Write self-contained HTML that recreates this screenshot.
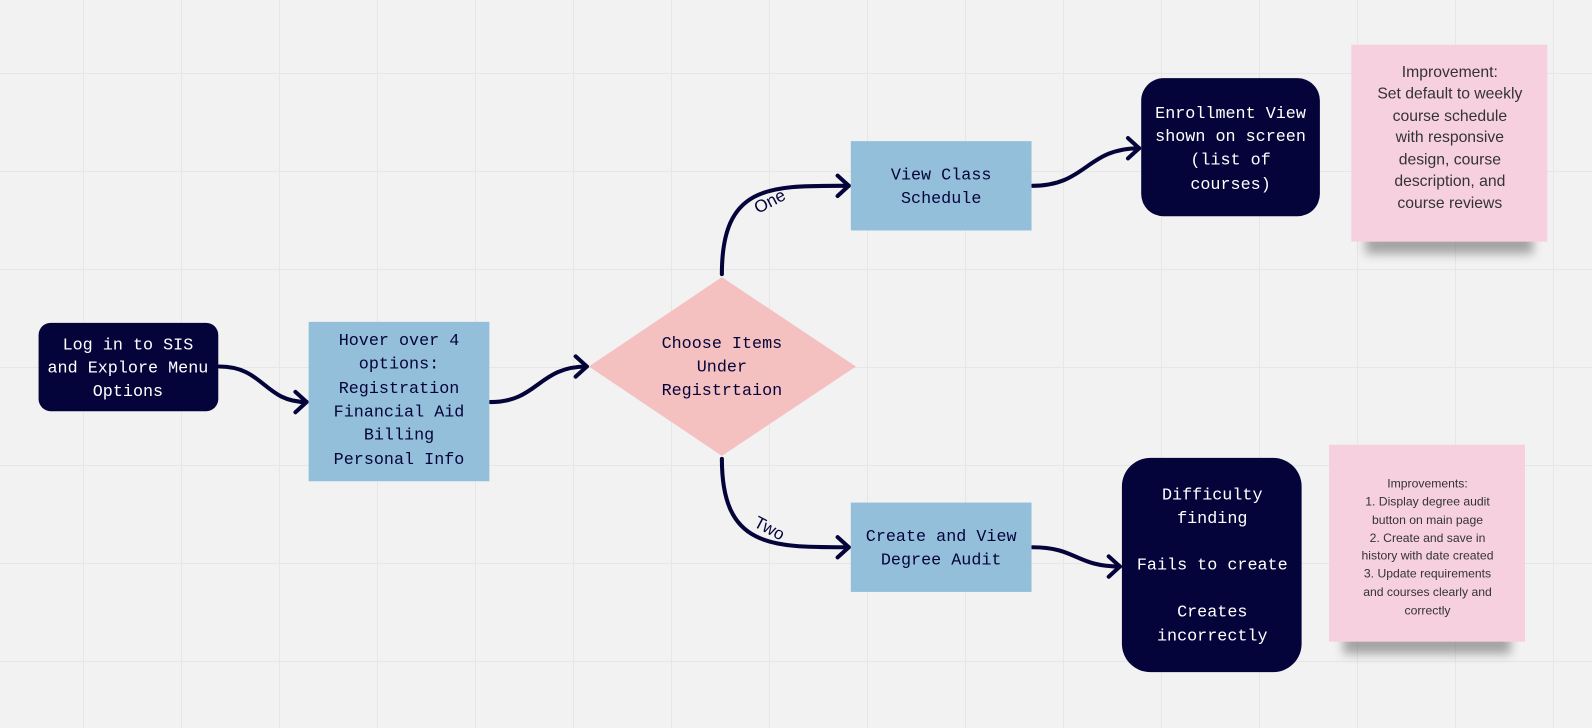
<!DOCTYPE html>
<html><head><style>
body{margin:0;background:#f2f2f2;}
svg{display:block}
.m{font-family:"Liberation Mono",monospace;font-size:16.5px;}
.s{font-family:"Liberation Sans",sans-serif;}
</style></head><body>
<svg width="1592" height="728" viewBox="0 0 1592 728" xmlns="http://www.w3.org/2000/svg">
<defs>
<pattern id="g" x="83" y="73" width="98" height="98" patternUnits="userSpaceOnUse">
<path d="M0 0V98M0 0H98" stroke="#e6e6e6" stroke-width="2" fill="none"/>
</pattern>
<filter id="sh" x="-20%" y="-50%" width="140%" height="200%"><feGaussianBlur stdDeviation="5"/></filter>
</defs>
<rect width="1592" height="728" fill="#f2f2f2"/>
<rect width="1592" height="728" fill="url(#g)"/>
<g transform="scale(1.0153)">
<g fill="none" stroke="#05043a" stroke-width="4" stroke-linecap="round" stroke-linejoin="round">
<path d="M216 361 C260 361 260 396 302 396"/><path d="M291 386 L302 396 L291 406"/>
<path d="M483 396 C530 396 530 361 578 361"/><path d="M567 351 L578 361 L567 371"/>
<path d="M711 270 C711 180 760 183 836 183"/><path d="M825 173 L836 183 L825 193"/>
<path d="M711 452 C711 540 760 539 836 539"/><path d="M825 529 L836 539 L825 549"/>
<path d="M1017 183 C1070 183 1070 146 1122 146"/><path d="M1111 136 L1122 146 L1111 156"/>
<path d="M1017 539 C1060 539 1060 558 1103 558"/><path d="M1092 548 L1103 558 L1092 568"/>
</g>
<text x="758" y="204" class="s" font-size="17" fill="#05043a" transform="rotate(-28 758 198)" text-anchor="middle">One</text>
<text x="758" y="526" class="s" font-size="17" fill="#05043a" transform="rotate(28 758 520)" text-anchor="middle">Two</text>

<rect x="38" y="318" width="177" height="87" rx="12" fill="#05043a"/>
<text class="m" fill="#fff" text-anchor="middle"><tspan x="126" y="344">Log in to SIS</tspan><tspan x="126" y="367">and Explore Menu</tspan><tspan x="126" y="390">Options</tspan></text>

<rect x="304" y="317" width="178" height="157" fill="#93bfdb"/>
<text class="m" fill="#05043a" text-anchor="middle"><tspan x="393" y="340">Hover over 4</tspan><tspan x="393" y="363">options:</tspan><tspan x="393" y="387">Registration</tspan><tspan x="393" y="410">Financial Aid</tspan><tspan x="393" y="433">Billing</tspan><tspan x="393" y="457">Personal Info</tspan></text>

<polygon points="711,273 843,361 711,449 580,361" fill="#f4c0c0"/>
<text class="m" fill="#05043a" text-anchor="middle"><tspan x="711" y="343">Choose Items</tspan><tspan x="711" y="366">Under</tspan><tspan x="711" y="389">Registrtaion</tspan></text>

<rect x="838" y="139" width="178" height="88" fill="#93bfdb"/>
<text class="m" fill="#05043a" text-anchor="middle"><tspan x="927" y="177">View Class</tspan><tspan x="927" y="200">Schedule</tspan></text>

<rect x="838" y="495" width="178" height="88" fill="#93bfdb"/>
<text class="m" fill="#05043a" text-anchor="middle"><tspan x="927" y="533">Create and View</tspan><tspan x="927" y="556">Degree Audit</tspan></text>

<rect x="1124" y="77" width="176" height="136" rx="22" fill="#05043a"/>
<text class="m" fill="#fff" text-anchor="middle"><tspan x="1212" y="116">Enrollment View</tspan><tspan x="1212" y="139">shown on screen</tspan><tspan x="1212" y="162">(list of</tspan><tspan x="1212" y="186">courses)</tspan></text>

<rect x="1105" y="451" width="177" height="211" rx="28" fill="#05043a"/>
<text class="m" fill="#fff" text-anchor="middle"><tspan x="1194" y="492">Difficulty</tspan><tspan x="1194" y="515">finding</tspan><tspan x="1194" y="561">Fails to create</tspan><tspan x="1194" y="607">Creates</tspan><tspan x="1194" y="631">incorrectly</tspan></text>

<rect x="1345" y="230" width="165" height="20" fill="#444" opacity="0.45" filter="url(#sh)"/>
<rect x="1331" y="44" width="193" height="194" fill="#f6d0df"/>
<text class="s" font-size="15.5" fill="#333" text-anchor="middle"><tspan x="1428" y="76">Improvement:</tspan><tspan x="1428" y="97">Set default to weekly</tspan><tspan x="1428" y="119">course schedule</tspan><tspan x="1428" y="140">with responsive</tspan><tspan x="1428" y="162">design, course</tspan><tspan x="1428" y="183">description, and</tspan><tspan x="1428" y="205">course reviews</tspan></text>

<rect x="1323" y="624" width="165" height="20" fill="#444" opacity="0.45" filter="url(#sh)"/>
<rect x="1309" y="438" width="193" height="194" fill="#f6d0df"/>
<text class="s" font-size="12" fill="#333" text-anchor="middle"><tspan x="1406" y="480">Improvements:</tspan><tspan x="1406" y="498">1. Display degree audit</tspan><tspan x="1406" y="516">button on main page</tspan><tspan x="1406" y="534">2. Create and save in</tspan><tspan x="1406" y="551">history with date created</tspan><tspan x="1406" y="569">3. Update requirements</tspan><tspan x="1406" y="587">and courses clearly and</tspan><tspan x="1406" y="605">correctly</tspan></text>
</g>
</svg>
</body></html>
